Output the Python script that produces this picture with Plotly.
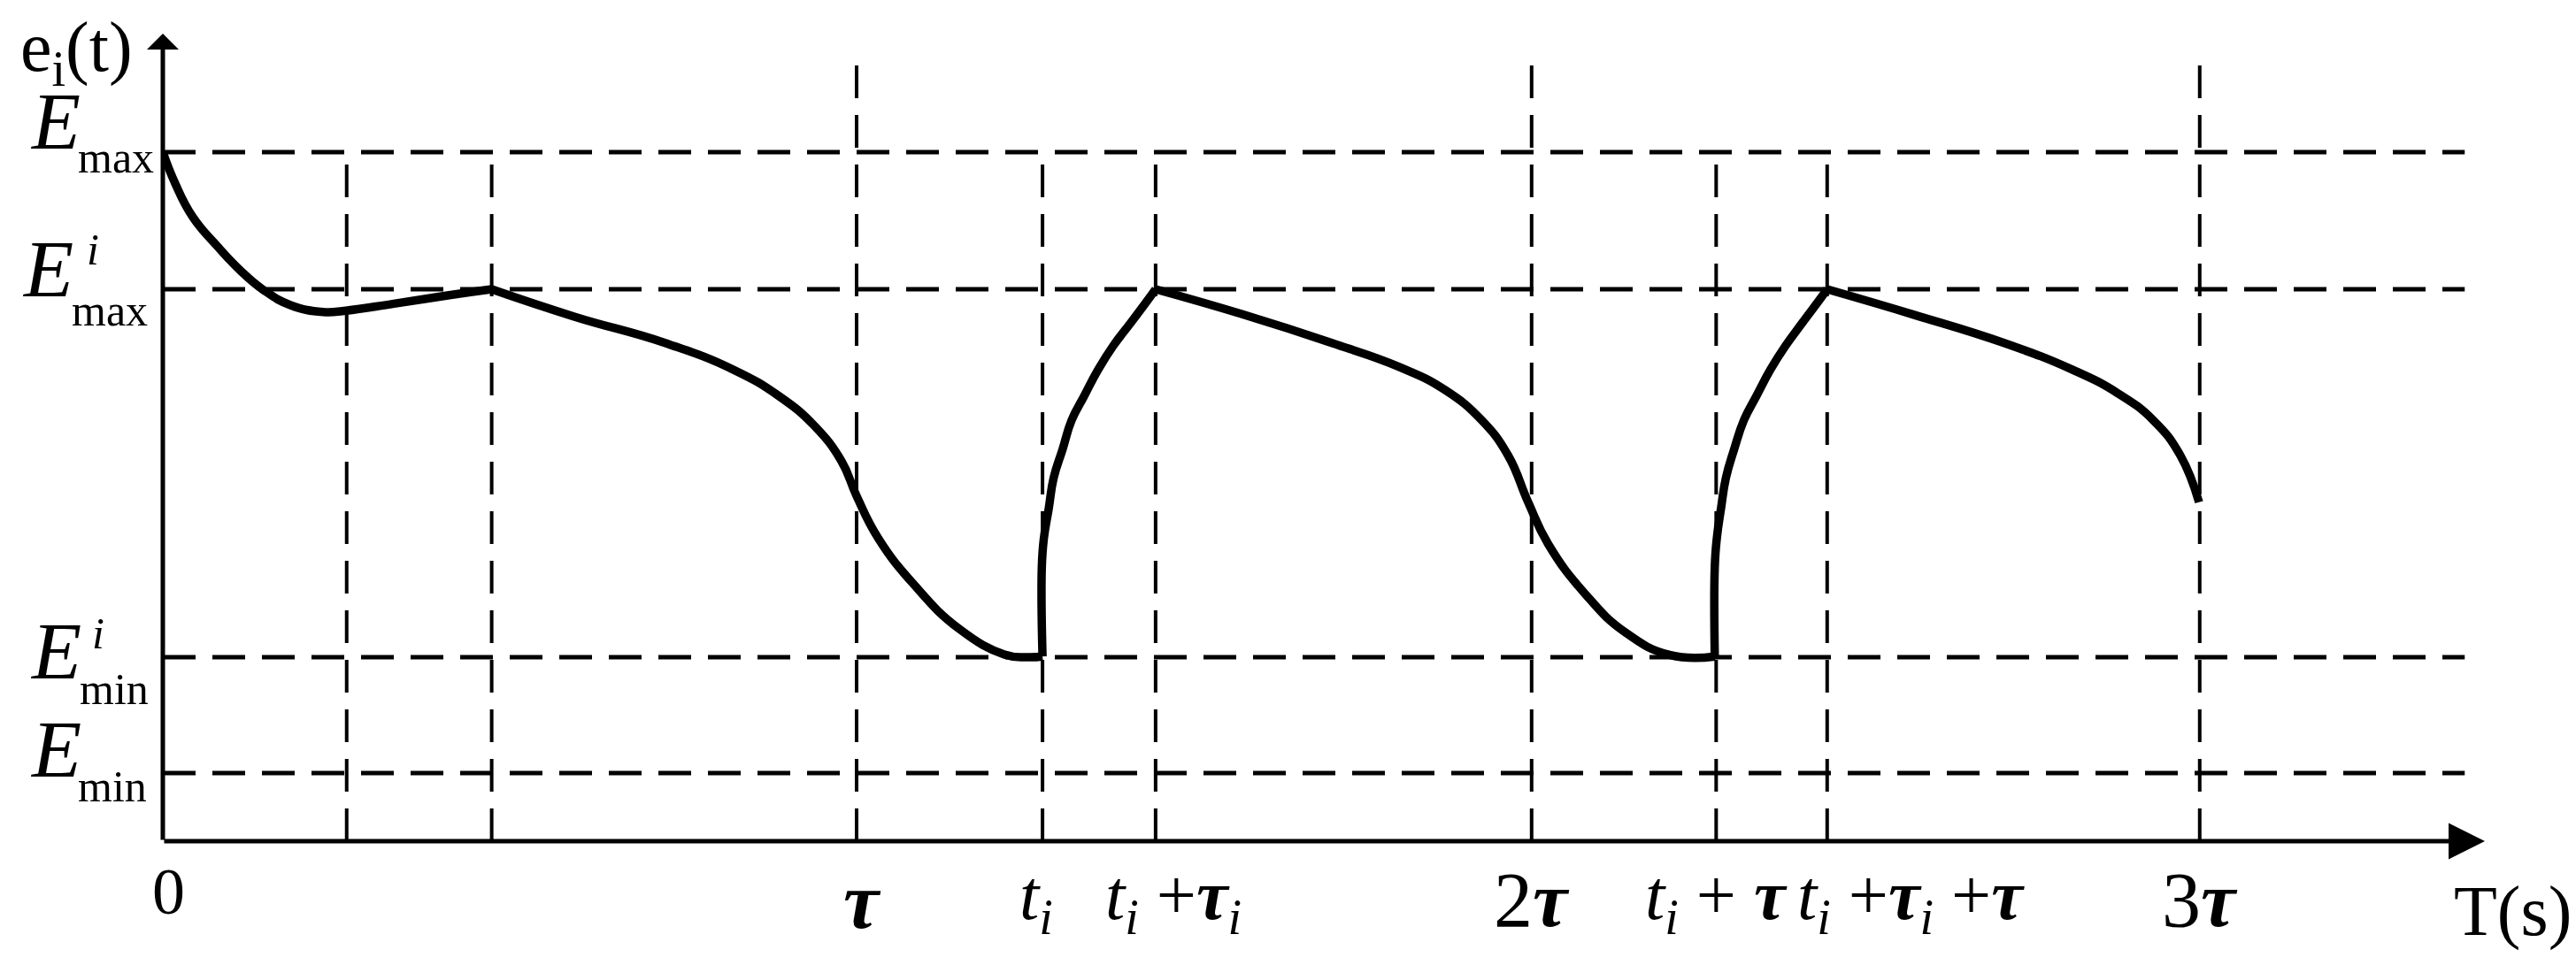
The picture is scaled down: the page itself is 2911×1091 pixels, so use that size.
import plotly.graph_objects as go

# ---------------- data ----------------
# energy levels (normalised, E_max = 1)
E_MAX = 1.0
E_MAX_I = 0.801
E_MIN_I = 0.267
E_MIN = 0.099
H_LEVELS = [E_MAX, E_MAX_I, E_MIN_I, E_MIN]

# time positions (tau = 1)
V_LINES_X = [0.265, 0.474, 1.0, 1.268, 1.431, 1.973, 2.239, 2.399, 2.936]
V_LINES_TALL = [False, False, True, False, False, True, False, False, True]

TICK_X = [0.0, 1.0, 1.268, 1.431, 1.973, 2.239, 2.399, 2.936]
TAU = "<b><i>τ</i></b>"
TI = "<i>t</i><sub><i>i</i></sub>"
TAUI = "<b><i>τ</i></b><sub><i>i</i></sub>"
TICK_TEXT = [
    "0",
    TAU,
    TI,
    TI + " +" + TAUI,
    "2" + TAU,
    TI + " + " + TAU,
    TI + " +" + TAUI + " +" + TAU,
    "3" + TAU,
]

# curve segments e_i(t)
SEG1_X = [0.0, 0.018, 0.043, 0.078, 0.111, 0.145, 0.184, 0.231, 0.264, 0.333, 0.417, 0.474]
SEG1_Y = [1.0, 0.954, 0.906, 0.864, 0.829, 0.800, 0.778, 0.768, 0.770, 0.780, 0.793, 0.801]

SEG2_X = [0.474, 0.594, 0.724, 0.823, 0.888, 0.939, 0.978, 1.0, 1.031, 1.083, 1.148, 1.213, 1.245, 1.268]
SEG2_Y = [0.801, 0.761, 0.723, 0.684, 0.646, 0.603, 0.552, 0.501, 0.440, 0.372, 0.308, 0.271, 0.267, 0.268]

RISE1_X = [1.268, 1.267, 1.270, 1.277, 1.284, 1.297, 1.310, 1.328, 1.348, 1.370, 1.395, 1.421, 1.431]
RISE1_Y = [0.268, 0.398, 0.440, 0.483, 0.527, 0.569, 0.611, 0.646, 0.684, 0.719, 0.752, 0.787, 0.801]

SEG3_X = [1.431, 1.555, 1.685, 1.783, 1.848, 1.901, 1.939, 1.968, 1.997, 2.050, 2.108, 2.173, 2.237]
SEG3_Y = [0.801, 0.765, 0.723, 0.688, 0.655, 0.611, 0.560, 0.492, 0.431, 0.359, 0.303, 0.270, 0.268]

RISE2_X = [2.237, 2.237, 2.240, 2.246, 2.253, 2.265, 2.279, 2.297, 2.317, 2.339, 2.363, 2.389, 2.399]
RISE2_Y = [0.268, 0.398, 0.440, 0.483, 0.527, 0.569, 0.611, 0.646, 0.684, 0.719, 0.752, 0.787, 0.801]

SEG4_X = [2.399, 2.524, 2.654, 2.753, 2.818, 2.869, 2.908, 2.935]
SEG4_Y = [0.801, 0.764, 0.723, 0.684, 0.650, 0.611, 0.560, 0.492]

# ---------------- layout constants ----------------
X_END = 3.347      # tip of time axis arrow
Y_END = 1.172      # tip of e axis arrow
H_END = 3.318      # end of horizontal dashed lines
V_TOP = 1.148      # top of tall dashed lines

FONT = "Liberation Serif, Times New Roman, serif"
DASH = "37px,19px"

fig = go.Figure()

for xs, ys in [(SEG1_X, SEG1_Y), (SEG2_X, SEG2_Y), (RISE1_X, RISE1_Y),
               (SEG3_X, SEG3_Y), (RISE2_X, RISE2_Y), (SEG4_X, SEG4_Y)]:
    fig.add_trace(go.Scatter(
        x=xs, y=ys, mode="lines",
        line=dict(color="black", width=9.5, shape="spline", smoothing=1.3),
        hoverinfo="skip", showlegend=False,
    ))

shapes = []
for lvl in H_LEVELS:
    shapes.append(dict(type="line", xref="x", yref="y", x0=0, x1=H_END, y0=lvl, y1=lvl,
                       line=dict(color="black", width=5, dash=DASH), layer="below"))
for vx, tall in zip(V_LINES_X, V_LINES_TALL):
    shapes.append(dict(type="line", xref="x", yref="y", x0=vx, x1=vx, y0=0,
                       y1=V_TOP if tall else E_MAX,
                       line=dict(color="black", width=4, dash=DASH), layer="below"))

ann = []
# axes with arrows
ann.append(dict(x=X_END, y=0, ax=0, ay=0, xref="x", yref="y", axref="x", ayref="y",
                text="", showarrow=True, arrowhead=2, arrowsize=1.64, arrowwidth=5,
                arrowcolor="black", standoff=0, startstandoff=0))
ann.append(dict(x=0, y=Y_END, ax=0, ay=0, xref="x", yref="y", axref="x", ayref="y",
                text="", showarrow=True, arrowhead=1, arrowsize=1.2, arrowwidth=5,
                arrowcolor="black", standoff=0, startstandoff=0))


def txt(text, x, y, size, xanchor="left", yanchor="top", xshift=0, yshift=0):
    ann.append(dict(text=text, x=x, y=y, xref="x", yref="y", showarrow=False,
                    xanchor=xanchor, yanchor=yanchor, xshift=xshift, yshift=yshift,
                    font=dict(family=FONT, size=size, color="black")))


# y-axis labels
txt("<i>E</i>", 0, E_MAX, 90, xshift=-152, yshift=86)
txt("max", 0, E_MAX, 50, xshift=-98, yshift=24)

txt("<i>E</i>", 0, E_MAX_I, 92, xshift=-161, yshift=76)
txt("<i>i</i>", 0, E_MAX_I, 50, xshift=-88, yshift=75)
txt("max", 0, E_MAX_I, 50, xshift=-105, yshift=6)

txt("<i>E</i>", 0, E_MIN_I, 92, xshift=-152, yshift=60)
txt("<i>i</i>", 0, E_MIN_I, 50, xshift=-82, yshift=57)
txt("min", 0, E_MIN_I, 50, xshift=-96, yshift=-6)

txt("<i>E</i>", 0, E_MIN, 92, xshift=-152, yshift=80)
txt("min", 0, E_MIN, 50, xshift=-98, yshift=15)

# axis titles
txt("e<sub>i</sub>(t)", 0, Y_END, 80, xshift=-163, yshift=31)
txt("T(s)", X_END, 0, 80, xanchor="center", xshift=31, yshift=-33)

# x tick labels
X_SHIFTS = [6, 7, -7, 20, 0, 0, 95, 0]
SIZES = [74, 90, 80, 80, 88, 80, 80, 88]
Y_SHIFTS = [-14, -16, -15, -15, -16, -15, -15, -16]
for tx, tt, xs_, sz, ys_ in zip(TICK_X, TICK_TEXT, X_SHIFTS, SIZES, Y_SHIFTS):
    txt(tt, tx, 0, sz, xanchor="center", xshift=xs_, yshift=ys_)

fig.update_layout(
    width=2911, height=1091,
    margin=dict(l=176, r=111, t=30, b=148),
    paper_bgcolor="white", plot_bgcolor="white",
    shapes=shapes, annotations=ann, showlegend=False,
    xaxis=dict(range=[0, X_END], showgrid=False, zeroline=False, showline=False,
               showticklabels=False, ticks=""),
    yaxis=dict(range=[0, Y_END], showgrid=False, zeroline=False, showline=False,
               showticklabels=False, ticks=""),
)

fig.write_html("out.html", config={"displayModeBar": False})
